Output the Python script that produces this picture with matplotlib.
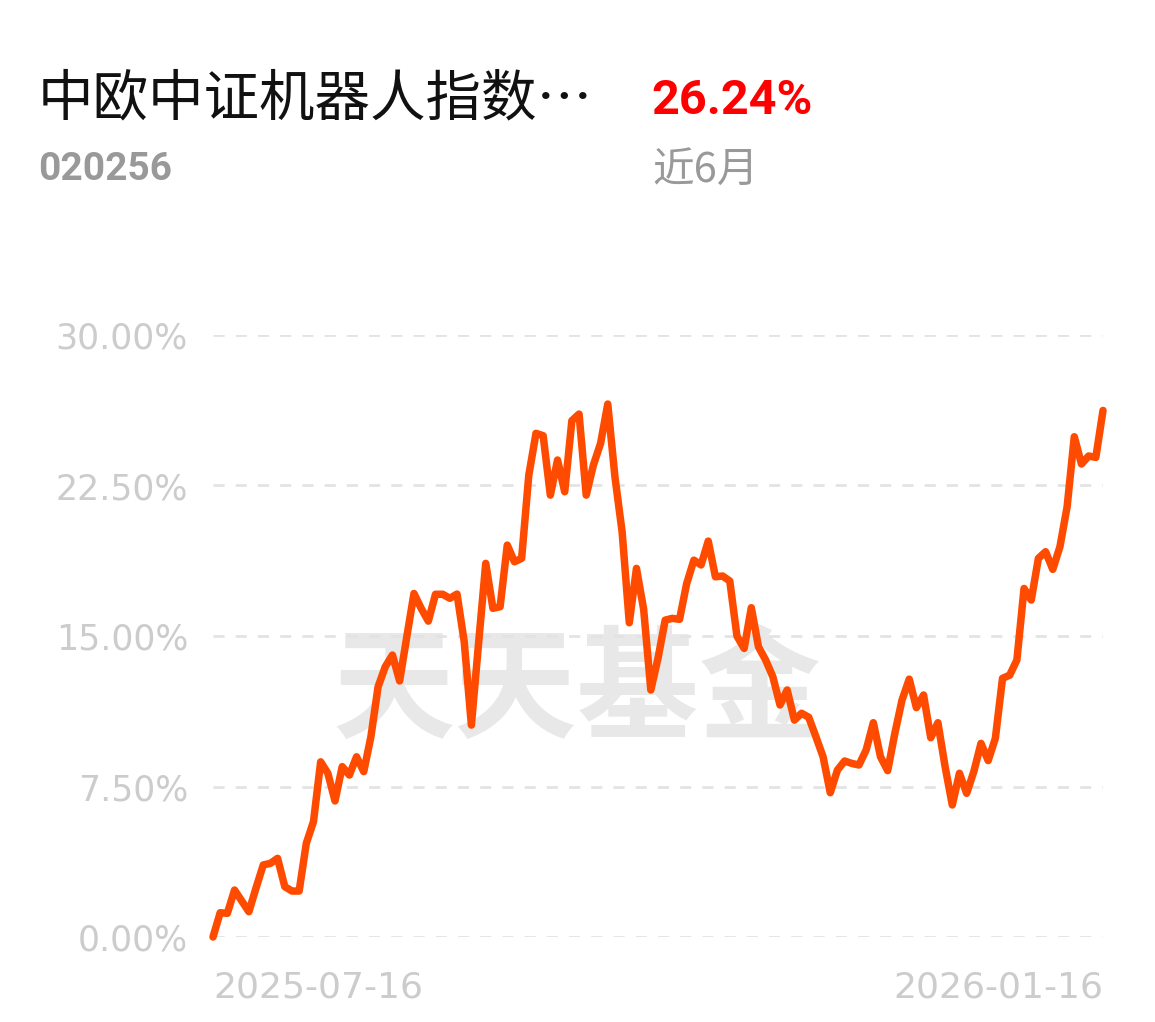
import matplotlib
matplotlib.use("Agg")
import matplotlib.pyplot as plt
import numpy as np

# Data (cumulative return, %)
fund_name = "中欧中证机器人指数…"
fund_code = "020256"
period_label = "近6月"
period_return = "26.24%"

returns = [
    0.00, 1.21, 1.18, 2.34, 1.80, 1.26, 2.45, 3.59, 3.67, 3.92,
    2.51, 2.29, 2.29, 4.67, 5.75, 8.73, 8.16, 6.78, 8.49, 8.07,
    8.98, 8.24, 9.98, 12.47, 13.47, 14.05, 12.76, 14.96, 17.12, 16.38,
    15.74, 17.08, 17.08, 16.88, 17.09, 14.71, 10.56, 14.63, 18.62, 16.38,
    16.46, 19.53, 18.70, 18.87, 23.02, 25.10, 24.98, 22.02, 23.77, 22.19,
    25.73, 26.06, 22.02, 23.52, 24.60, 26.56, 22.93, 20.19, 15.66, 18.37,
    16.33, 12.31, 13.89, 15.79, 15.88, 15.83, 17.62, 18.78, 18.54, 19.73,
    17.95, 17.99, 17.74, 15.00, 14.38, 16.41, 14.46, 13.80, 12.97, 11.56,
    12.31, 10.81, 11.15, 10.95, 9.98, 8.98, 7.19, 8.32, 8.77, 8.65,
    8.57, 9.32, 10.68, 8.98, 8.29, 10.15, 11.81, 12.85, 11.43, 12.06,
    9.93, 10.68, 8.49, 6.58, 8.16, 7.16, 8.24, 9.65, 8.79, 9.90,
    12.89, 13.05, 13.80, 17.37, 16.79, 18.87, 19.20, 18.32, 19.45, 21.44,
    24.93, 23.57, 23.97, 23.90, 26.24,
]
y_ticks = [0, 7.5, 15, 22.5, 30]
x_tick_labels = ["2025-07-16", "2026-01-16"]

CJK = ["Noto Sans CJK SC", "DejaVu Sans"]
NUM = ["Roboto", "DejaVu Sans"]
plt.rcParams["font.family"] = CJK

fig = plt.figure(figsize=(11.55, 10.22), dpi=100)
fig.patch.set_facecolor("white")

# header texts
fig.text(38 / 1155, 1 - 100 / 1022, fund_name, fontsize=40, color="#111111",
         ha="left", va="center")
fig.text(651 / 1155, 1 - 101 / 1022, period_return, fontsize=35, color="#FF0000",
         fontweight="bold", family=NUM, ha="left", va="center")
fig.text(38 / 1155, 1 - 169 / 1022, fund_code, fontsize=28, color="#999999",
         fontweight="bold", family=NUM, ha="left", va="center")
fig.text(652 / 1155, 1 - 170 / 1022, period_label, fontsize=30, color="#999999",
         ha="left", va="center")

ax = fig.add_axes([213 / 1155, 1 - 937 / 1022, 890 / 1155, 602 / 1022])
x = np.arange(len(returns))

# watermark
ax.text(0.409, 0.405, "天天基金", transform=ax.transAxes, fontsize=88,
        fontweight="bold", color="#e8e8e8", ha="center", va="center", zorder=0)

for t in y_ticks:
    ax.axhline(t, color="#e3e3e3", linewidth=2, linestyle=(0, (4, 4)), zorder=1)

ax.plot(x, returns, color="#FF4B00", linewidth=5.4, solid_joinstyle="round",
        solid_capstyle="round", clip_on=False, zorder=3)

ax.set_xlim(0, len(returns) - 1)
ax.set_ylim(0, 30)
ax.set_yticks(y_ticks)
ax.set_yticklabels([f"{t:.2f}%" for t in y_ticks], fontsize=25, color="#cccccc",
                   family="DejaVu Sans")
ax.set_xticks([0, len(returns) - 1])
ax.set_xticklabels(x_tick_labels, fontsize=26, color="#cccccc", family="DejaVu Sans")
xl = ax.get_xticklabels()
xl[0].set_horizontalalignment("left")
xl[1].set_horizontalalignment("right")
ax.tick_params(axis="both", length=0)
ax.tick_params(axis="y", pad=18)
ax.tick_params(axis="x", pad=24)
for s in ax.spines.values():
    s.set_visible(False)

fig.savefig("out.png", dpi=100, facecolor="white")
